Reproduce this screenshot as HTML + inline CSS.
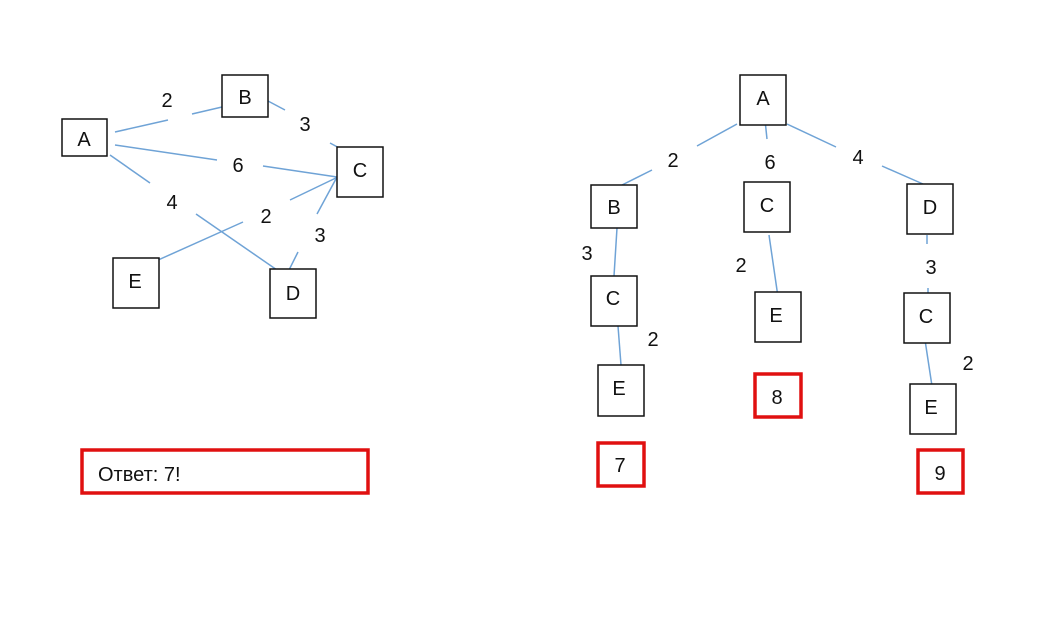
<!DOCTYPE html>
<html><head><meta charset="utf-8"><style>
html,body{margin:0;padding:0;background:#fff;}
svg{display:block}
text{font-family:"Liberation Sans",sans-serif;font-size:20px;fill:#111;text-anchor:middle;dominant-baseline:central}
.n{fill:#fff;stroke:#111;stroke-width:1.5}
.r{fill:#fff;stroke:#e01010;stroke-width:3.5}
.l{stroke:#6fa3d6;stroke-width:1.5;fill:none}
</style></head><body>
<svg width="1055" height="624" viewBox="0 0 1055 624">
<!-- left graph lines -->
<line class="l" x1="115" y1="132" x2="168" y2="120"/><line class="l" x1="192" y1="114" x2="222" y2="107"/>
<line class="l" x1="268" y1="101" x2="285" y2="110"/><line class="l" x1="330" y1="143" x2="343" y2="150"/>
<line class="l" x1="115" y1="145" x2="217" y2="160"/><line class="l" x1="263" y1="166" x2="337" y2="177"/>
<line class="l" x1="110" y1="155" x2="150" y2="183"/><line class="l" x1="196" y1="214" x2="277" y2="270"/>
<line class="l" x1="147" y1="265" x2="243" y2="222"/><line class="l" x1="290" y1="200" x2="340" y2="176"/>
<line class="l" x1="337" y1="177" x2="317" y2="214"/><line class="l" x1="298" y1="252" x2="288" y2="272"/>
<rect class="n" x="62" y="119" width="45" height="37"/><text x="84" y="140">A</text>
<rect class="n" x="222" y="75" width="46" height="42"/><text x="245" y="98">B</text>
<rect class="n" x="337" y="147" width="46" height="50"/><text x="360" y="171">C</text>
<rect class="n" x="113" y="258" width="46" height="50"/><text x="135" y="282">E</text>
<rect class="n" x="270" y="269" width="46" height="49"/><text x="293" y="294">D</text>
<text x="167" y="101">2</text><text x="305" y="125">3</text><text x="238" y="166">6</text>
<text x="172" y="203">4</text><text x="266" y="217">2</text><text x="320" y="236">3</text>
<rect class="r" x="82" y="450" width="286" height="43"/>
<text x="98" y="475" style="text-anchor:start">Ответ: 7!</text>
<!-- right tree lines -->
<line class="l" x1="737" y1="124" x2="697" y2="146"/><line class="l" x1="652" y1="170" x2="622" y2="185"/>
<line class="l" x1="765" y1="120" x2="767" y2="139"/>
<line class="l" x1="787" y1="124" x2="836" y2="147"/><line class="l" x1="882" y1="166" x2="923" y2="184"/>
<line class="l" x1="617" y1="228" x2="614" y2="276"/>
<line class="l" x1="618" y1="326" x2="621" y2="365"/>
<line class="l" x1="769" y1="235" x2="778" y2="297"/>
<line class="l" x1="927" y1="235" x2="927" y2="244"/><line class="l" x1="928" y1="288" x2="928" y2="296"/>
<line class="l" x1="925" y1="340" x2="932" y2="386"/>
<rect class="n" x="740" y="75" width="46" height="50"/><text x="763" y="99">A</text>
<rect class="n" x="591" y="185" width="46" height="43"/><text x="614" y="208">B</text>
<rect class="n" x="744" y="182" width="46" height="50"/><text x="767" y="206">C</text>
<rect class="n" x="907" y="184" width="46" height="50"/><text x="930" y="208">D</text>
<rect class="n" x="591" y="276" width="46" height="50"/><text x="613" y="299">C</text>
<rect class="n" x="755" y="292" width="46" height="50"/><text x="776" y="316">E</text>
<rect class="n" x="904" y="293" width="46" height="50"/><text x="926" y="317">C</text>
<rect class="n" x="598" y="365" width="46" height="51"/><text x="619" y="389">E</text>
<rect class="n" x="910" y="384" width="46" height="50"/><text x="931" y="408">E</text>
<text x="673" y="161">2</text><text x="770" y="163">6</text><text x="858" y="158">4</text>
<text x="587" y="254">3</text><text x="653" y="340">2</text><text x="741" y="266">2</text>
<text x="931" y="268">3</text><text x="968" y="364">2</text>
<rect class="r" x="755" y="374" width="46" height="43"/><text x="777" y="398">8</text>
<rect class="r" x="598" y="443" width="46" height="43"/><text x="620" y="466">7</text>
<rect class="r" x="918" y="450" width="45" height="43"/><text x="940" y="474">9</text>
</svg>
</body></html>
